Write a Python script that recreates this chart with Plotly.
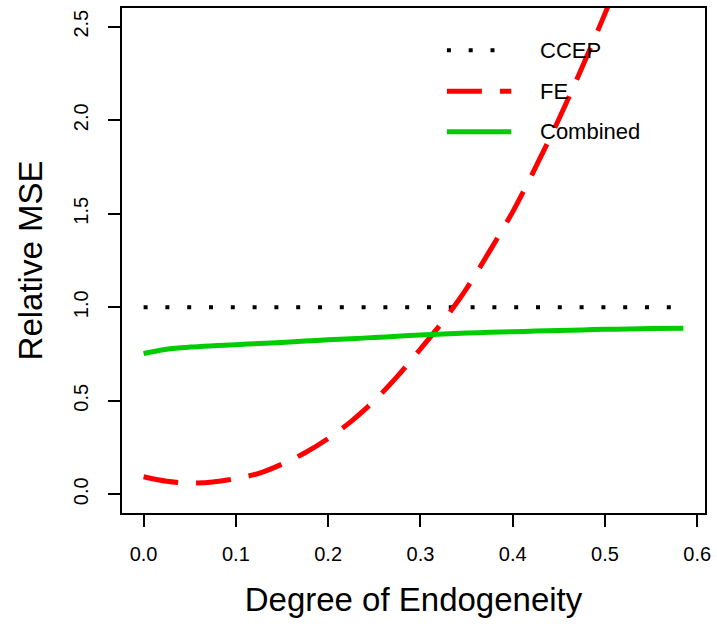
import plotly.graph_objects as go

# ---- data ----
endog = [0.0, 0.025, 0.05, 0.075, 0.10, 0.125, 0.15, 0.175, 0.20, 0.225, 0.25,
         0.275, 0.30, 0.325, 0.35, 0.375, 0.40, 0.425, 0.45, 0.475, 0.50,
         0.525, 0.55, 0.585]
mse_ccep = [1.0] * len(endog)
mse_fe = [0.094, 0.070, 0.060, 0.066, 0.084, 0.112, 0.161, 0.222, 0.298, 0.390,
          0.500, 0.630, 0.777, 0.928, 1.100, 1.300, 1.510, 1.750, 2.005, 2.280,
          2.570, 2.870, 3.180, 3.620]
mse_comb = [0.753, 0.776, 0.787, 0.794, 0.800, 0.806, 0.812, 0.819, 0.826, 0.832,
            0.838, 0.845, 0.852, 0.857, 0.862, 0.866, 0.869, 0.873, 0.876, 0.879,
            0.882, 0.884, 0.886, 0.888]
series_names = ["CCEP", "FE", "Combined"]
x_ticks = [0.0, 0.1, 0.2, 0.3, 0.4, 0.5, 0.6]
y_ticks = [0.0, 0.5, 1.0, 1.5, 2.0, 2.5]

GREEN = "#00CD00"
RED = "#FF0000"
FONT = "Liberation Sans, Arial, sans-serif"

DOT = "4px,17.8px"
LDASH = "35px,18px"

fig = go.Figure()
fig.add_trace(go.Scatter(x=endog, y=mse_ccep, mode="lines", name=series_names[0],
                         line=dict(color="black", width=4, dash=DOT)))
fig.add_trace(go.Scatter(x=endog, y=mse_fe, mode="lines", name=series_names[1],
                         line=dict(color=RED, width=5, dash=LDASH, shape="spline", smoothing=0.8)))
fig.add_trace(go.Scatter(x=endog, y=mse_comb, mode="lines", name=series_names[2],
                         line=dict(color=GREEN, width=5, shape="spline", smoothing=0.8)))

# legend (R-style, no box)
leg_rows = [2.374, 2.155, 1.938]
leg_styles = [("black", 4, DOT), (RED, 5, LDASH), (GREEN, 5, "solid")]
for name, yy, (col, w, d) in zip(series_names, leg_rows, leg_styles):
    fig.add_shape(type="line", xref="x", yref="y", x0=0.3287, x1=0.3985, y0=yy, y1=yy,
                  line=dict(color=col, width=w, dash=d))
    fig.add_annotation(x=0.4275, y=yy, xref="x", yref="y", text=name, showarrow=False,
                       xanchor="left", yanchor="middle",
                       font=dict(family=FONT, size=22, color="black"))

axis_common = dict(showgrid=False, zeroline=False, showline=True, mirror=True,
                   linecolor="black", linewidth=1.5, ticks="outside", ticklen=12,
                   tickwidth=1.5, tickcolor="black",
                   tickfont=dict(family=FONT, size=20, color="black"))

fig.update_layout(
    width=717, height=626,
    margin=dict(l=122, r=10, t=6, b=113),
    paper_bgcolor="white", plot_bgcolor="white",
    showlegend=False,
    xaxis=dict(range=[-0.0234, 0.6084], tickvals=x_ticks,
               ticktext=[f"{v:.1f}" for v in x_ticks], ticklabelstandoff=10,
               title=dict(text="Degree of Endogeneity", font=dict(family=FONT, size=33, color="black"),
                          standoff=24),
               **axis_common),
    yaxis=dict(range=[-0.1, 2.6], tickvals=y_ticks,
               ticktext=[f"{v:.1f}" for v in y_ticks], tickangle=-90, ticklabelstandoff=12,
               title=dict(text="Relative MSE", font=dict(family=FONT, size=33, color="black"),
                          standoff=18),
               **axis_common),
)

fig.write_html("out.html")
